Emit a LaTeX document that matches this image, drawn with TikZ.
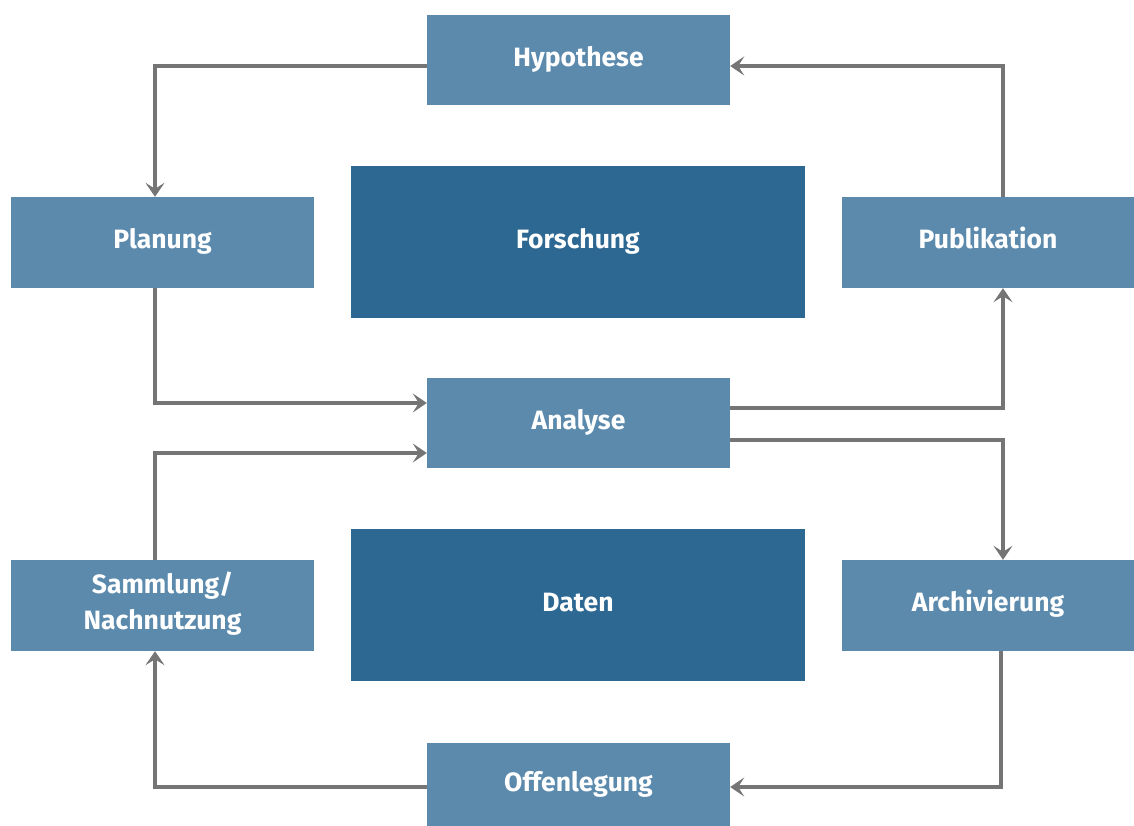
\documentclass[tikz,border=0pt]{standalone}
\usepackage{fontspec}
\setmainfont{Fira Sans}
\usetikzlibrary{arrows.meta}
\definecolor{boxlight}{HTML}{5B8AAD}
\definecolor{boxdark}{HTML}{2D6893}
\definecolor{conn}{HTML}{757575}
\tikzset{
  lbox/.style={fill=boxlight, inner sep=0pt, text=white, font=\fontsize{26.5}{30}\selectfont\bfseries, align=center},
  dbox/.style={fill=boxdark, inner sep=0pt, text=white, font=\fontsize{26.5}{30}\selectfont\bfseries, align=center},
  link/.style={draw=conn, line width=4.8pt, -{Stealth[length=14pt,width=19pt,inset=6pt]}}
}
\begin{document}
\begin{tikzpicture}[x=1pt,y=-1pt]
\useasboundingbox (0,0) rectangle (1134,825);
\node[lbox, minimum width=303pt, minimum height=90pt] (hyp) at (578.5,60) {\strut Hypothese};
\node[lbox, minimum width=303pt, minimum height=91pt] (plan) at (162.5,242.5) {\strut Planung};
\node[dbox, minimum width=454pt, minimum height=152pt] (fors) at (578,242) {\strut Forschung};
\node[lbox, minimum width=292pt, minimum height=91pt] (pub) at (988,242.5) {\strut Publikation};
\node[lbox, minimum width=303pt, minimum height=90pt] (ana) at (578.5,423) {\strut Analyse};
\node[lbox, minimum width=303pt, minimum height=91pt] (samm) at (162.5,605.5) {\strut Sammlung/\\[6pt]\strut Nachnutzung};
\node[dbox, minimum width=454pt, minimum height=152pt] (dat) at (578,605) {\strut Daten};
\node[lbox, minimum width=292pt, minimum height=91pt] (arch) at (988,605.5) {\strut Archivierung};
\node[lbox, minimum width=303pt, minimum height=84pt] (off) at (578.5,785) {\strut Offenlegung};

\draw[link] ([yshift=-6pt]hyp.west) -| ([xshift=-7.5pt]plan.north);
\draw[link] ([xshift=-7.5pt]plan.south) |- ([yshift=20pt]ana.west);
\draw[link] ([xshift=-7.5pt]samm.north) |- ([yshift=-30pt]ana.west);
\draw[link] ([yshift=15pt]ana.east) -| ([xshift=15pt]pub.south);
\draw[link] ([xshift=15pt]pub.north) |- ([yshift=-6pt]hyp.east);
\draw[link] ([yshift=-17pt]ana.east) -| ([xshift=15pt]arch.north);
\draw[link] ([xshift=13pt]arch.south) |- ([yshift=-2pt]off.east);
\draw[link] ([yshift=-2pt]off.west) -| ([xshift=-7.5pt]samm.south);
\end{tikzpicture}
\end{document}
